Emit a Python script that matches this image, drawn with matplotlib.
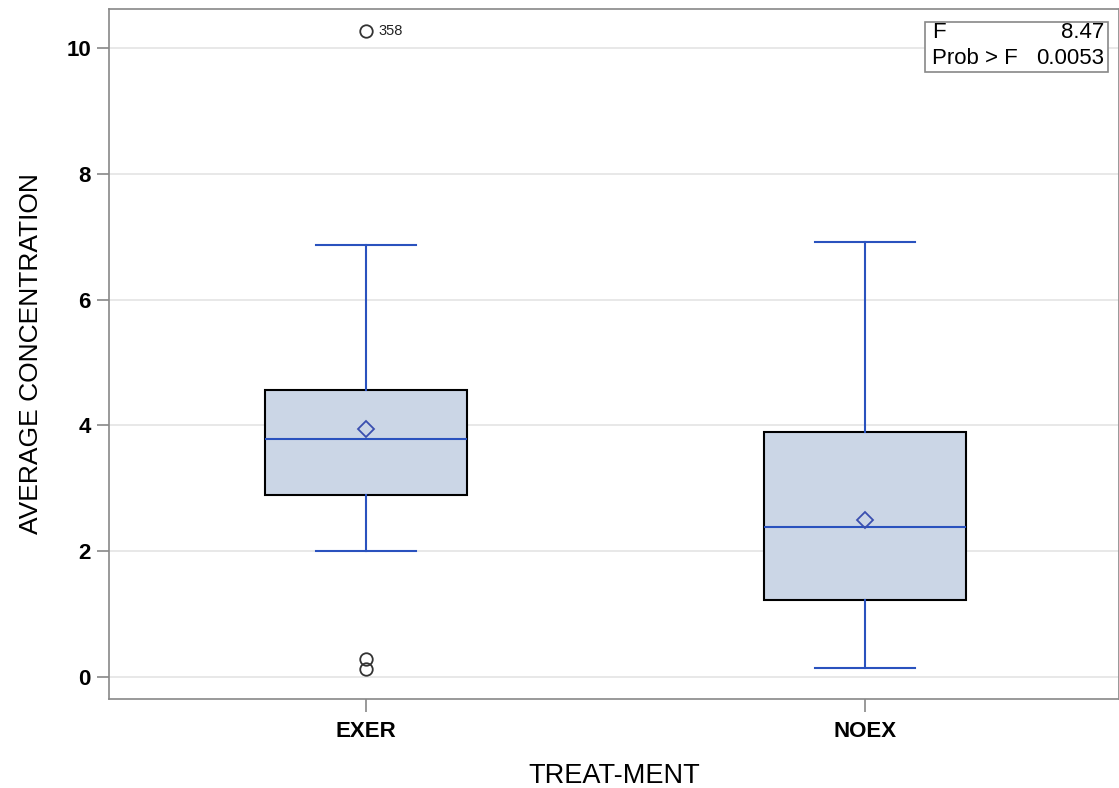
import matplotlib.pyplot as plt
from matplotlib.patches import Rectangle

plt.rcParams['font.family'] = ['Liberation Sans', 'DejaVu Sans']

# data
groups = ["EXER", "NOEX"]
q1 = [2.90, 1.22]
med = [3.78, 2.38]
q3 = [4.57, 3.89]
mean = [3.94, 2.49]
whislo = [2.00, 0.14]
whishi = [6.86, 6.92]
fliers = [[10.27, 0.29, 0.13], []]
flier_ids = {(0, 10.27): "358"}
f_value = "8.47"
p_value = "0.0053"

blue = '#2a52be'
fill = '#cbd6e6'

fig = plt.figure(figsize=(11.19, 7.88), dpi=100)
ax = fig.add_axes([109 / 1119, 89 / 788, 1010 / 1119, 690 / 788])

stats = []
for i, g in enumerate(groups):
    stats.append(dict(label=g, q1=q1[i], med=med[i], q3=q3[i], mean=mean[i],
                      whislo=whislo[i], whishi=whishi[i], fliers=fliers[i]))

ax.bxp(stats, positions=[1, 2], widths=0.405, showmeans=True, patch_artist=True,
       boxprops=dict(facecolor=fill, edgecolor='black', linewidth=1.5),
       medianprops=dict(color=blue, linewidth=1.5),
       whiskerprops=dict(color=blue, linewidth=1.5),
       capprops=dict(color=blue, linewidth=1.5),
       capwidths=0.2,
       meanprops=dict(marker='D', markerfacecolor='none', markeredgecolor='#3a4fb0',
                      markersize=8, markeredgewidth=1.3),
       flierprops=dict(marker='o', markerfacecolor='none', markeredgecolor='#333333',
                       markersize=9, markeredgewidth=1.3),
       zorder=3)

for (gi, v), lab in flier_ids.items():
    ax.annotate(lab, (gi + 1, v), xytext=(9, 0), textcoords='offset points',
                fontsize=10.5, va='center', color='#222222')

ax.set_xlim(0.485, 2.51)
ax.set_ylim(-0.35, 10.62)
ax.set_yticks([0, 2, 4, 6, 8, 10])
ax.yaxis.grid(True, color='#e4e4e4', linewidth=1.2)
ax.set_axisbelow(True)
for s in ax.spines.values():
    s.set_color('#888888')
    s.set_linewidth(1.2)
ax.tick_params(axis='both', colors='#888888', labelcolor='black', labelsize=16, length=9, width=1.2)
ax.tick_params(axis='y', pad=4)
ax.tick_params(axis='x', pad=7)
for lab in ax.get_yticklabels() + ax.get_xticklabels():
    lab.set_fontweight('bold')

ax.set_xlabel("TREAT-MENT", fontsize=19.5, labelpad=15)
ax.set_ylabel("AVERAGE CONCENTRATION", fontsize=19, labelpad=17)

# F test inset
ax.add_patch(Rectangle((925 / 1010 - 109 / 1010, 1 - (72 - 9) / 690), (1108 - 925) / 1010,
                       (72 - 22) / 690, transform=ax.transAxes, facecolor='white',
                       edgecolor='#888888', linewidth=1.2, zorder=5))
x0 = (932 - 109) / 1010
x1 = (1104 - 109) / 1010
ax.text(x0, 1 - (33 - 9) / 690, "F", transform=ax.transAxes, fontsize=16, va='center', zorder=6)
ax.text(x1, 1 - (33 - 9) / 690, f_value, transform=ax.transAxes, fontsize=16, va='center', ha='right', zorder=6)
ax.text(x0, 1 - (59 - 9) / 690, "Prob > F", transform=ax.transAxes, fontsize=16, va='center', zorder=6)
ax.text(x1, 1 - (59 - 9) / 690, p_value, transform=ax.transAxes, fontsize=16, va='center', ha='right', zorder=6)

fig.savefig("out.png", dpi=100)
